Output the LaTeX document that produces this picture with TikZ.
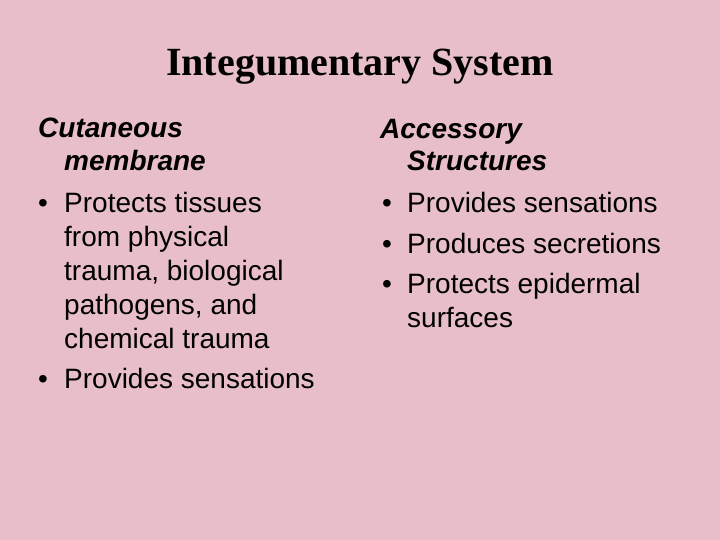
\documentclass[tikz,border=0pt]{standalone}
\usepackage{fontspec}
\setmainfont{Liberation Serif}
\setsansfont{Liberation Sans}
\definecolor{bg}{HTML}{E8BFC8}
\begin{document}
\begin{tikzpicture}[x=1pt,y=-1pt,
 ttl/.style={anchor=base,inner sep=0,font=\fontsize{40}{44}\selectfont\bfseries},
 txt/.style={anchor=base west,inner sep=0,font=\sffamily\fontsize{28}{32}\selectfont},
 hd/.style={txt,font=\sffamily\itshape\bfseries\fontsize{28}{32}\selectfont}]
\fill[bg] (0,0) rectangle (720,540);
\useasboundingbox (0,0) rectangle (720,540);
\node[ttl] (t) at (360,76) {Integumentary System};
% left
\node[hd] (l1) at (38,138) {Cutaneous};
\node[hd] (l2) at (64,171) {membrane};
\node[txt] (lb1) at (38,213) {•};
\node[txt] (l3) at (64,213) {Protects tissues};
\node[txt] (l4) at (64,247) {from physical};
\node[txt] (l5) at (64,280) {trauma, biological};
\node[txt] (l6) at (64,314) {pathogens, and};
\node[txt] (l7) at (64,348) {chemical trauma};
\node[txt] (lb2) at (38,388) {•};
\node[txt] (l8) at (64,388) {Provides sensations};
% right
\node[hd] (r1) at (380,139) {Accessory};
\node[hd] (r2) at (407,171) {Structures};
\node[txt] (rb1) at (382,213) {•};
\node[txt] (r3) at (407,213) {Provides sensations};
\node[txt] (rb2) at (382,253) {•};
\node[txt] (r4) at (407,253) {Produces secretions};
\node[txt] (rb3) at (382,293) {•};
\node[txt] (r5) at (407,293) {Protects epidermal};
\node[txt] (r6) at (407,327) {surfaces};
\end{tikzpicture}
\end{document}
